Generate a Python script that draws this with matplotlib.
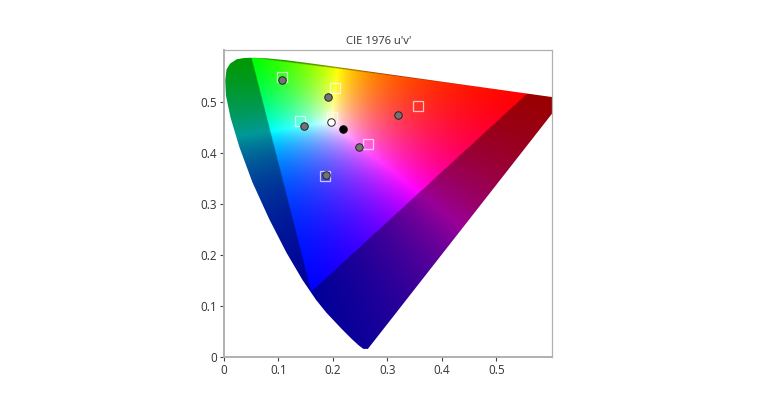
import numpy as np
import matplotlib
matplotlib.use("Agg")
import matplotlib.pyplot as plt
from matplotlib.patches import Polygon

plt.rcParams['font.family'] = ['Open Sans', 'DejaVu Sans']

# spectral locus, u' and v'
locus_u = [0.2557, 0.2470, 0.2347, 0.2161, 0.1877, 0.1690, 0.1441, 0.1147, 0.0828, 0.0521, 0.0282, 0.0119,
           0.0035, 0.0023, 0.0046, 0.0111, 0.0231, 0.0360, 0.0501, 0.0792, 0.1127, 0.1531,
           0.2026, 0.2623, 0.4035, 0.5203, 0.6234, 0.2640]
locus_v = [0.0159, 0.0230, 0.0350, 0.0549, 0.0871, 0.1119, 0.1510, 0.2044, 0.2708, 0.3427, 0.4117, 0.4698,
           0.5131, 0.5425, 0.5638, 0.5752, 0.5837, 0.5861, 0.5868, 0.5856, 0.5821, 0.5766,
           0.5694, 0.5604, 0.5393, 0.5219, 0.5065, 0.0159]

# bright triangle corners (R, G, B) and its white point
primary_u = [0.558, 0.050, 0.160]
primary_v = [0.518, 0.588, 0.128]
white_u, white_v = 0.197, 0.461

# measured points
grey_u = [0.106, 0.191, 0.147, 0.319, 0.248, 0.187]
grey_v = [0.5425, 0.509, 0.452, 0.475, 0.412, 0.357]
square_u = [0.106, 0.204, 0.140, 0.3565, 0.2637, 0.185, 0.199]
square_v = [0.549, 0.5275, 0.463, 0.493, 0.418, 0.3555, 0.471]
black_u, black_v = [0.218], [0.4465]
open_u, open_v = [0.197], [0.461]

ticks = [0, 0.1, 0.2, 0.3, 0.4, 0.5]
tick_labels = ['0', '0.1', '0.2', '0.3', '0.4', '0.5']


def barycentric(u, v):
    m = np.array([primary_u, primary_v, [1, 1, 1]])
    inv = np.linalg.inv(m)
    return (inv[0, 0] * u + inv[0, 1] * v + inv[0, 2],
            inv[1, 0] * u + inv[1, 1] * v + inv[1, 2],
            inv[2, 0] * u + inv[2, 1] * v + inv[2, 2])


def gamut_image(u, v):
    r, g, b = barycentric(u, v)
    wr, wg, wb = barycentric(white_u, white_v)
    outside = (r < 0) | (g < 0) | (b < 0)
    rgb = np.dstack([r / wr, g / wg, b / wb]).clip(0, None)
    rgb = rgb / rgb.max(axis=2, keepdims=True)
    rgb = rgb ** 1.15
    rgb[outside] *= 0.6  # out of gamut part is drawn darker
    return rgb


fig = plt.figure(figsize=(7.6, 4.07), dpi=100)
ax = fig.add_axes([224 / 760, 1 - 357 / 407, 328 / 760, 307 / 407])

xmax = 328 / 545
ymax = 307 / 510
uu, vv = np.meshgrid(np.linspace(0, xmax, 700), np.linspace(0, ymax, 700))
img = ax.imshow(gamut_image(uu, vv), origin='lower', extent=[0, xmax, 0, ymax],
                aspect='auto', interpolation='bilinear', zorder=1)
clip = Polygon(np.column_stack([locus_u, locus_v]), closed=True, transform=ax.transData)
img.set_clip_path(clip)

ax.plot(square_u, square_v, ls='none', marker='s', ms=7.8, mfc='none', mec='white',
        mew=0.9, alpha=0.7, zorder=3)
ax.plot(grey_u, grey_v, ls='none', marker='o', ms=5.4, mfc='#727272', mec='#222222',
        mew=0.7, zorder=4)
ax.plot(open_u, open_v, ls='none', marker='o', ms=5.4, mfc='white', mec='#222222',
        mew=0.7, zorder=4)
ax.plot(black_u, black_v, ls='none', marker='o', ms=5.4, mfc='black', mec='black',
        mew=0.7, zorder=4)

ax.set_xlim(0, xmax)
ax.set_ylim(0, ymax)
ax.set_xticks(ticks)
ax.set_xticklabels(tick_labels)
ax.set_yticks(ticks)
ax.set_yticklabels(tick_labels)
ax.tick_params(length=3, width=0.8, color='#444444', labelsize=8.5, labelcolor='#333333', pad=2)
fig.text(379 / 760, 1 - 41 / 407, "CIE 1976 u'v'", fontsize=8.1, color='#333333',
         ha='center', va='center')

for side in ax.spines:
    ax.spines[side].set_color('#b0b0b0')
ax.spines['left'].set_linewidth(1.4)
ax.spines['bottom'].set_linewidth(1.4)
ax.spines['top'].set_linewidth(0.9)
ax.spines['right'].set_linewidth(0.9)

fig.savefig('out.png', dpi=100)
